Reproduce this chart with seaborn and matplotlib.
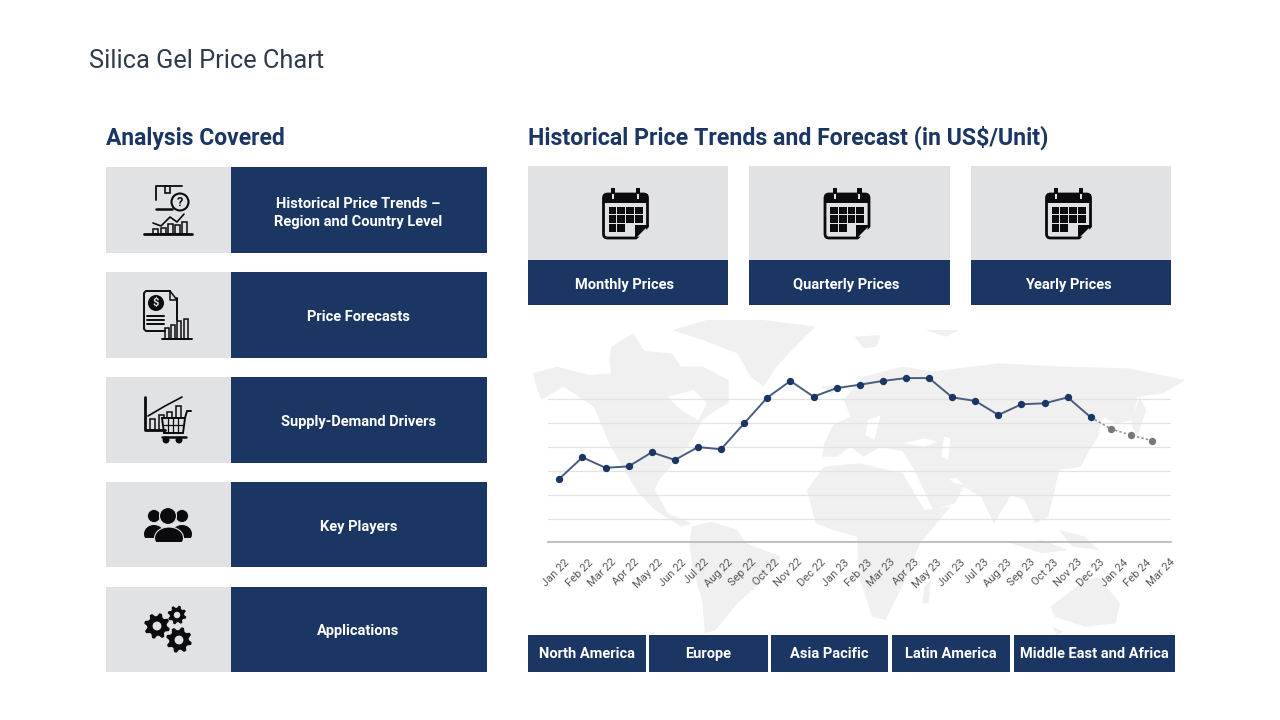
import numpy as np
import pandas as pd
import matplotlib
matplotlib.use("Agg")
import matplotlib.pyplot as plt
import matplotlib.transforms as mtrans
from matplotlib.patches import Rectangle, Circle, Polygon, FancyBboxPatch, Ellipse
import seaborn as sns

NAVY = "#1c3664"
PANEL_GREY = "#e1e2e4"
MAP_GREY = "#f0f0f1"
BLACK = "#0b0b0d"

months = ["Jan 22", "Feb 22", "Mar 22", "Apr 22", "May 22", "Jun 22", "Jul 22", "Aug 22", "Sep 22",
          "Oct 22", "Nov 22", "Dec 22", "Jan 23", "Feb 23", "Mar 23", "Apr 23", "May 23", "Jun 23",
          "Jul 23", "Aug 23", "Sep 23", "Oct 23", "Nov 23", "Dec 23", "Jan 24", "Feb 24", "Mar 24"]
hist_price = [2.67, 3.57, 3.13, 3.19, 3.78, 3.46, 4.00, 3.91, 5.00, 6.08, 6.78, 6.12,
              6.48, 6.62, 6.78, 6.90, 6.90, 6.09, 5.94, 5.35, 5.80, 5.84, 6.09, 5.25]
# forecast dots sit a bit closer together than the monthly ones in the source
forecast_pos = [23, 23.88, 24.75, 25.65]
forecast_price = [5.25, 4.76, 4.50, 4.27]
grid_levels = [0, 1, 2, 3, 4, 5, 6]

left_labels = ["Historical Price Trends –\nRegion and Country Level", "Price Forecasts",
               "Supply-Demand Drivers", "Key Players", "Applications"]
card_labels = ["Monthly Prices", "Quarterly Prices", "Yearly Prices"]
region_labels = ["North America", "Europe", "Asia Pacific", "Latin America", "Middle East and Africa"]

# world map backdrop, traced in zoom coordinates of the source (x/2.3, y/3)
land = [
    # north america
    [(30,190),(85,170),(160,195),(210,190),(205,150),(260,120),(350,130),(370,170),(420,170),(480,210),
     (480,280),(450,300),(420,330),(395,390),(380,420),(340,480),(320,510),(310,540),(340,610),(395,640),
     (370,650),(310,600),(270,545),(240,480),(205,400),(170,290),(100,230),(50,270),(40,240)],
    # greenland and arctic islands
    [(350,60),(430,30),(560,30),(680,50),(640,100),(590,170),(560,230),(530,200),(500,130),(420,90)],
    [(205,150),(290,130),(260,70),(210,110)],
    # south america
    [(395,650),(440,635),(500,660),(520,700),(600,740),(560,810),(500,880),(450,960),(425,970),(420,880),
     (395,760),(390,700)],
    # eurasia
    [(700,400),(720,345),(760,320),(745,270),(790,200),(880,170),(950,185),(1100,160),(1250,170),(1400,175),
     (1530,210),(1480,250),(1420,260),(1410,330),(1370,340),(1340,320),(1330,380),(1310,420),(1290,470),
     (1240,480),(1230,540),(1215,620),(1185,640),(1160,570),(1130,555),(1090,640),(1060,560),(1020,530),
     (1000,580),(950,600),(905,475),(880,425),(830,410),(790,440),(760,410),(730,440),(695,440)],
    # africa
    [(660,540),(700,470),(780,460),(880,490),(930,600),(990,590),(920,700),(890,800),(840,930),(810,920),
     (780,800),(775,680),(720,660),(680,640)],
    # australia and islands
    [(1220,890),(1290,820),(1330,800),(1380,880),(1370,940),(1300,950),(1230,920)],
    [(1130,700),(1200,690),(1260,720),(1200,730)],
    [(1240,660),(1300,680),(1330,720),(1270,710)],
    [(1420,380),(1440,300),(1425,260),(1405,340)],
    [(930,830),(945,810),(940,880),(925,880)],
    [(770,80),(830,75),(820,110),(790,115)],
    [(930,60),(1010,60),(980,80)],
    [(690,230),(730,225),(720,250)],
    [(1225,950),(1250,965),(1235,975)],
]
water = [
    [(340,260),(400,240),(430,280),(410,330),(370,300)],
    [(880,400),(930,385),(960,395),(930,410)],
    [(985,505),(1005,505),(1020,525),(1000,520)],
    [(320,510),(400,520),(420,560),(360,550)],
    [(975,380),(990,385),(985,450),(970,440)],
    [(800,330),(830,315),(815,390),(795,375)],
]

sns.set_theme(style="white")
plt.rcParams["font.family"] = ["Roboto", "DejaVu Sans"]

fig = plt.figure(figsize=(12.8, 7.2), dpi=100, facecolor="white")
bg = fig.add_axes([0, 0, 1, 1])
bg.set_xlim(0, 1280)
bg.set_ylim(720, 0)
bg.axis("off")


def box(x0, y0, x1, y1, color):
    bg.add_patch(Rectangle((x0, y0), x1 - x0, y1 - y0, fc=color, ec="none"))


def gear(cx, cy, r, teeth=8):
    ang = np.linspace(0, 2 * np.pi, teeth * 4, endpoint=False) + np.pi / teeth / 2
    rad = np.tile([r, r, r * 0.76, r * 0.76], teeth)
    bg.add_patch(Polygon(np.c_[cx + rad * np.cos(ang), cy + rad * np.sin(ang)], fc=BLACK, ec="none"))
    bg.add_patch(Circle((cx, cy), r * 0.34, fc=PANEL_GREY, ec="none"))


def calendar(cx):
    l, r, t, b = cx - 23, cx + 23, 193, 239
    bg.add_patch(FancyBboxPatch((l + 1, t + 1), 44, 44, boxstyle="round,pad=0,rounding_size=4",
                                fc=PANEL_GREY, ec=BLACK, lw=2))
    box(l + 1, t + 1, r - 1, t + 10, BLACK)
    for dx in (-12.3, 12.3):
        box(cx + dx - 2.2, 188, cx + dx + 2.2, 200, BLACK)
        box(cx + dx - 1, 194, cx + dx + 1, 199, PANEL_GREY)
    for row, ncol in enumerate([4, 4, 2]):
        for col in range(ncol):
            box(l + 6 + col * 8.8, 206.7 + row * 8.7, l + 13.8 + col * 8.8, 214.4 + row * 8.7, BLACK)
    bg.add_patch(Polygon([(r, b - 14), (r - 14, b - 14), (r - 14, b)], fc=BLACK, ec="none"))
    bg.add_patch(Polygon([(r + 1.5, b - 13), (r - 13, b + 1.5), (r + 1.5, b + 1.5)], fc=PANEL_GREY, ec="none"))


def icon_trend():
    bg.plot([156, 156, 182], [200, 186, 186], color=BLACK, lw=1.3)
    bg.plot([156, 172], [209, 209], color=BLACK, lw=1.8)
    bg.add_patch(Rectangle((165, 186), 5, 7, fc="none", ec=BLACK, lw=1.2))
    bg.add_patch(Circle((180, 202), 8.5, fc=PANEL_GREY, ec=BLACK, lw=1.5))
    bg.text(180, 202, "?", ha="center", va="center", fontsize=9, color=BLACK, fontweight="bold")
    bg.plot([144, 192], [234, 234], color=BLACK, lw=2)
    for x, top in [(153, 229), (161, 228), (168, 224), (175, 225), (182, 222)]:
        bg.add_patch(Rectangle((x, top), 4.5, 234 - top, fc="none", ec=BLACK, lw=1.1))
    bg.plot([153, 161, 170, 177, 184], [223, 226, 217, 222, 214], color=BLACK, lw=1.2)


def icon_doc():
    bg.plot([177, 177], [298, 320], color=BLACK, lw=1.4)
    bg.plot([170, 146, 144, 144, 146, 165], [291, 291, 293, 329, 331, 331], color=BLACK, lw=1.4)
    bg.plot([170, 177, 170, 170], [291, 300, 300, 291], color=BLACK, lw=1.1)
    bg.add_patch(Circle((156, 303), 8, fc=BLACK, ec="none"))
    bg.text(156, 303, "$", ha="center", va="center", fontsize=8, color=PANEL_GREY, fontweight="bold")
    for y in (316, 320, 324):
        bg.plot([147, 164], [y, y], color=BLACK, lw=1.4)
    bg.plot([162, 192], [339, 339], color=BLACK, lw=1.4)
    for x, top in [(165, 328), (171, 325), (177, 321), (184, 319)]:
        bg.add_patch(Rectangle((x, top), 4, 339 - top, fc="none", ec=BLACK, lw=1.1))


def icon_cart():
    bg.plot([145, 145, 165], [397, 430, 430], color=BLACK, lw=2)
    for x, top in [(150, 419), (159, 415), (167, 412), (176, 406)]:
        bg.add_patch(Rectangle((x, top), 5, 430 - top, fc="none", ec=BLACK, lw=1.1))
    bg.plot([148, 165, 182], [416, 406, 397], color=BLACK, lw=1.2)
    bg.add_patch(Polygon([(162, 418), (185, 418), (183, 433), (164, 433)], fc=PANEL_GREY, ec=BLACK, lw=1.4))
    for x in (168, 173, 178):
        bg.plot([x, x], [418, 433], color=BLACK, lw=0.9)
    bg.plot([163, 184], [425, 425], color=BLACK, lw=0.9)
    bg.plot([185, 187, 191], [418, 411, 411], color=BLACK, lw=1.4)
    bg.plot([162, 186], [437, 437], color=BLACK, lw=1.8)
    for x in (166, 179):
        bg.add_patch(Circle((x, 440), 3.5, fc=BLACK, ec="none"))


def icon_people():
    for x in (154, 182):
        bg.add_patch(Circle((x, 516), 6.5, fc=BLACK, ec=PANEL_GREY, lw=0.6))
        bg.add_patch(Ellipse((x, 534), 20, 18, fc=BLACK, ec="none"))
    box(143, 537.5, 193, 545, PANEL_GREY)
    bg.add_patch(Circle((168, 516), 8.5, fc=BLACK, ec=PANEL_GREY, lw=0.8))
    bg.add_patch(Ellipse((169, 538), 29, 22, fc=BLACK, ec=PANEL_GREY, lw=0.8))
    box(153, 541.5, 185, 552, PANEL_GREY)


def icon_gears():
    gear(157, 626, 13)
    gear(177, 615, 9.5)
    gear(179, 640, 13)


# map goes first so everything else sits on top of it
for poly in land:
    bg.add_patch(Polygon([(520 + x / 2.3, 310 + y / 3) for x, y in poly], fc=MAP_GREY, ec="none"))
for poly in water:
    bg.add_patch(Polygon([(520 + x / 2.3, 310 + y / 3) for x, y in poly], fc="white", ec="none"))

bg.text(89, 60.5, "Silica Gel Price Chart", fontsize=18.3, color="#2e3a4c", ha="left", va="center")
bg.text(106, 138, "Analysis Covered", fontsize=16.5, color=NAVY, fontweight="bold", ha="left", va="center")
bg.text(528, 137.5, "Historical Price Trends and Forecast (in US$/Unit)", fontsize=16.7, color=NAVY,
        fontweight="bold", ha="left", va="center")

rows = [(167, 253), (272, 358), (377, 463), (482, 567), (587, 672)]
for (y0, y1), label in zip(rows, left_labels):
    box(106, y0, 231, y1, PANEL_GREY)
    box(231, y0, 487, y1, NAVY)
    nudge = -1 if "\n" in label else 0.5
    bg.text(358.5, (y0 + y1) / 2 + nudge, label, color="white", fontsize=10.5, fontweight="bold",
            ha="center", va="center_baseline", linespacing=1.4)
icon_trend()
icon_doc()
icon_cart()
icon_people()
icon_gears()

cards = [(528, 728), (749, 950), (971, 1171)]
for (x0, x1), label in zip(cards, card_labels):
    box(x0, 166, x1, 260, PANEL_GREY)
    box(x0, 260, x1, 305, NAVY)
    calendar((x0 + x1) / 2 - 2.5)
    bg.text((x0 + x1) / 2 - 3, 283.5, label, color="white", fontsize=10.5, fontweight="bold",
            ha="center", va="center_baseline")

regions = [(528, 646), (649, 768), (771, 888), (892, 1010), (1014, 1175)]
for (x0, x1), label in zip(regions, region_labels):
    box(x0, 634.5, x1, 672, NAVY)
    bg.text((x0 + x1) / 2, 652.5, label, color="white", fontsize=10.5, fontweight="bold",
            ha="center", va="center_baseline")

# price chart, transparent so the map shows through
ax = fig.add_axes([548 / 1280, 1 - 542.3 / 720, (1171 - 548) / 1280, (542.3 - 360) / 720])
ax.patch.set_alpha(0)
hist = pd.DataFrame({"pos": np.arange(len(hist_price)), "price": hist_price})
fc = pd.DataFrame({"pos": forecast_pos, "price": forecast_price})
sns.lineplot(data=fc, x="pos", y="price", color="#8a8a8c", lw=1.1, linestyle=(0, (1.5, 1.5)), ax=ax, zorder=3)
sns.scatterplot(data=fc.iloc[1:], x="pos", y="price", color="#77787a", s=28, linewidth=0, ax=ax, zorder=4)
sns.lineplot(data=hist, x="pos", y="price", color="#4a5c80", lw=1.4, ax=ax, zorder=3)
sns.scatterplot(data=hist, x="pos", y="price", color=NAVY, s=28, linewidth=0, ax=ax, zorder=4)

ax.set_xlim(-0.49, 26.47)
ax.set_ylim(0, (542.3 - 360) / 23.8)
ax.set_yticks(grid_levels)
ax.set_yticklabels([])
ax.yaxis.grid(True, color="#e2e3e5", lw=0.9)
ax.xaxis.grid(False)
ax.set_axisbelow(True)
ax.set_xlabel("")
ax.set_ylabel("")
for side in ("top", "right", "left"):
    ax.spines[side].set_visible(False)
ax.spines["bottom"].set_color("#b4b5b7")
ax.spines["bottom"].set_linewidth(1.2)
ax.tick_params(axis="both", length=0)
ax.set_xticks(np.linspace(0, 26.2, len(months)))
ax.set_xticklabels(months, rotation=45, ha="right", rotation_mode="anchor", fontsize=8, color="#55575a")
shift = mtrans.ScaledTranslation(5 / 100, -10 / 100, fig.dpi_scale_trans)
for lab in ax.get_xticklabels():
    lab.set_transform(lab.get_transform() + shift)

fig.savefig("out.png", dpi=100)
